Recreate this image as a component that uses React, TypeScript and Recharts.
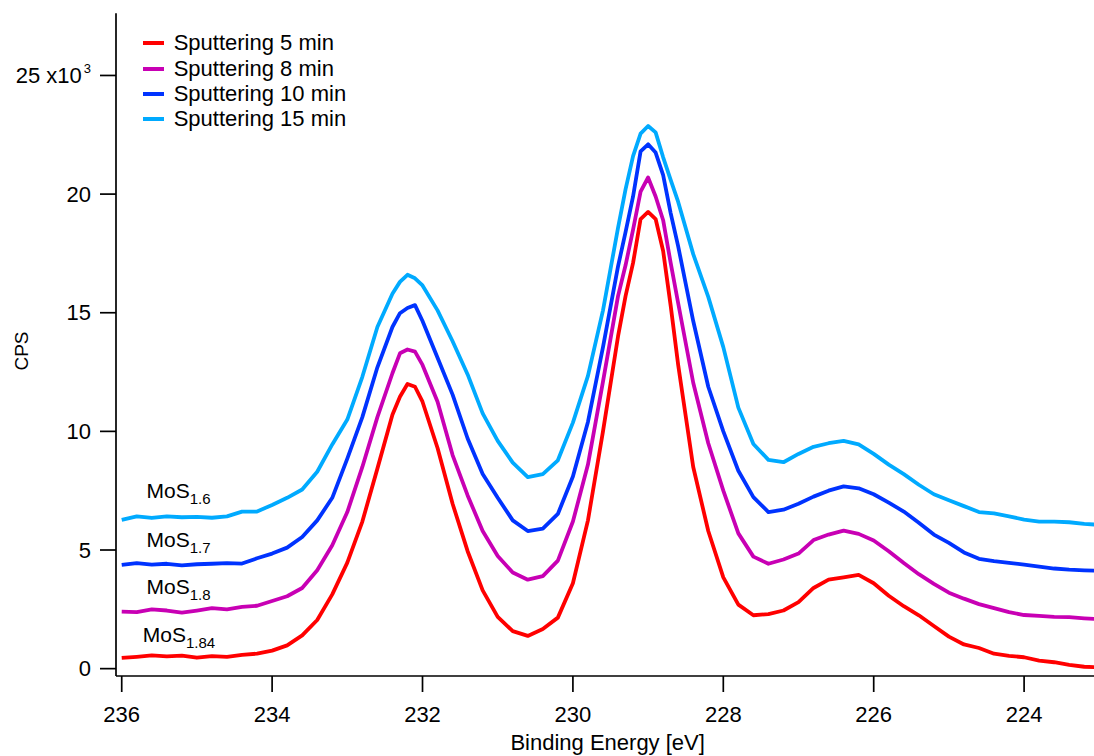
import { LineChart, Line, XAxis, YAxis, Legend, ReferenceDot } from 'recharts';

// Mo 3d / S 2s region, binding energy in eV (high to low), denser over the two peaks
const energy = [
  236.0, 235.8, 235.6, 235.4, 235.2, 235.0, 234.8, 234.6, 234.4, 234.2,
  234.0, 233.8, 233.6, 233.4, 233.2, 233.0, 232.8, 232.6, 232.4, 232.3,
  232.2, 232.1, 232.0, 231.8, 231.6, 231.4, 231.2, 231.0, 230.8, 230.6,
  230.4, 230.2, 230.0, 229.8, 229.6, 229.4, 229.3, 229.2, 229.1, 229.0,
  228.9, 228.8, 228.7, 228.6, 228.4, 228.2, 228.0, 227.8, 227.6, 227.4,
  227.2, 227.0, 226.8, 226.6, 226.4, 226.2, 226.0, 225.8, 225.6, 225.4,
  225.2, 225.0, 224.8, 224.6, 224.4, 224.2, 224.0, 223.8, 223.6, 223.4,
  223.2, 223.0,
];

// counts per second, x10^3
const sputter5 = [
  0.45, 0.5, 0.56, 0.52, 0.55, 0.46, 0.53, 0.5, 0.58, 0.63,
  0.76, 0.98, 1.4, 2.05, 3.13, 4.47, 6.2, 8.43, 10.7, 11.46,
  12.0, 11.88, 11.25, 9.3, 6.95, 4.95, 3.3, 2.18, 1.58, 1.38,
  1.67, 2.15, 3.6, 6.25, 10.0, 14.0, 15.7, 17.1, 18.95, 19.25,
  18.95, 17.6, 15.3, 12.8, 8.5, 5.8, 3.85, 2.7, 2.25, 2.3,
  2.45, 2.8, 3.4, 3.75, 3.85, 3.95, 3.6, 3.07, 2.63, 2.25,
  1.8, 1.35, 1.02, 0.87, 0.63, 0.54, 0.48, 0.34, 0.27, 0.16,
  0.08, 0.06,
];
const sputter8 = [
  2.4, 2.38, 2.5, 2.45, 2.36, 2.45, 2.55, 2.5, 2.6, 2.65,
  2.85, 3.05, 3.4, 4.15, 5.2, 6.6, 8.5, 10.6, 12.45, 13.29,
  13.45, 13.36, 12.8, 11.25, 9.0, 7.3, 5.8, 4.75, 4.05, 3.75,
  3.9, 4.55, 6.2, 8.6, 12.1, 15.7, 17.0, 18.5, 20.1, 20.7,
  19.9, 18.9, 17.1, 15.4, 12.05, 9.5, 7.5, 5.7, 4.72, 4.42,
  4.6, 4.85, 5.42, 5.65, 5.82, 5.68, 5.4, 4.95, 4.45, 3.98,
  3.57, 3.2, 2.95, 2.72, 2.55, 2.38, 2.26, 2.22, 2.18, 2.17,
  2.12, 2.08,
];
const sputter10 = [
  4.37, 4.45, 4.38, 4.42, 4.35, 4.4, 4.42, 4.45, 4.43, 4.65,
  4.85, 5.1, 5.55, 6.25, 7.2, 8.85, 10.6, 12.7, 14.4, 14.98,
  15.2, 15.32, 14.65, 13.1, 11.55, 9.7, 8.2, 7.2, 6.25, 5.8,
  5.9, 6.52, 8.1, 10.4, 13.55, 16.95, 18.4, 19.9, 21.8, 22.1,
  21.75, 20.8, 19.2, 17.8, 14.65, 11.88, 10.0, 8.34, 7.23, 6.6,
  6.7, 6.95, 7.25, 7.5, 7.68, 7.6, 7.35, 7.0, 6.62, 6.15,
  5.65, 5.3, 4.9, 4.63, 4.53, 4.46, 4.38, 4.3, 4.22, 4.17,
  4.14, 4.12,
];
const sputter15 = [
  6.27, 6.42, 6.35, 6.42, 6.38, 6.4, 6.36, 6.42, 6.62, 6.62,
  6.9, 7.2, 7.55, 8.3, 9.45, 10.5, 12.3, 14.4, 15.8, 16.3,
  16.6, 16.45, 16.15, 15.1, 13.8, 12.4, 10.76, 9.6, 8.68, 8.07,
  8.2, 8.78, 10.37, 12.34, 15.1, 18.58, 20.2, 21.6, 22.55, 22.87,
  22.6, 21.55, 20.6, 19.67, 17.47, 15.67, 13.55, 11.0, 9.47, 8.8,
  8.7, 9.05, 9.35, 9.5, 9.6, 9.45, 9.05, 8.6, 8.2, 7.75,
  7.35, 7.1, 6.85, 6.6, 6.54, 6.42, 6.28, 6.2, 6.2, 6.17,
  6.1, 6.06,
];

const seriesKeys = ['s5', 's8', 's10', 's15'];
const seriesNames = ['Sputtering 5 min', 'Sputtering 8 min', 'Sputtering 10 min', 'Sputtering 15 min'];
const seriesColors = ['#ff0000', '#c800b4', '#0033ff', '#00aaff'];

const energyTicks = [236, 234, 232, 230, 228, 226, 224];
const cpsTicks = [0, 5, 10, 15, 20, 25];

// MoS_x tags next to each trace's flat left end
const phaseTags = [
  { x: 235.67, y: 7.21, sub: '1.6' },
  { x: 235.67, y: 5.13, sub: '1.7' },
  { x: 235.67, y: 3.13, sub: '1.8' },
  { x: 235.72, y: 1.13, sub: '1.84' },
];

const rows = energy.map((e, i) => ({
  energy: e,
  s5: sputter5[i],
  s8: sputter8[i],
  s10: sputter10[i],
  s15: sputter15[i],
}));

const FONT = '"Liberation Sans", Arial, Helvetica, sans-serif';

function CpsTick(props: any) {
  const { x, y, payload } = props;
  const v = payload.value;
  return (
    <text x={x} y={y} dy={7.5} textAnchor="end" fontSize={22} fill="#000">
      {v === 25 ? (
        <>
          25 x10
          <tspan dx={2} dy={-10} fontSize={13}>3</tspan>
        </>
      ) : (
        v
      )}
    </text>
  );
}

function LegendBox() {
  return (
    <div style={{ fontFamily: FONT, fontSize: 22, color: '#000' }}>
      {seriesNames.map((name, i) => (
        <div key={name} style={{ display: 'flex', alignItems: 'center', height: 25.4, whiteSpace: 'nowrap' }}>
          <span style={{ display: 'inline-block', width: 21, height: 4, background: seriesColors[i], marginRight: 10 }} />
          {name}
        </div>
      ))}
    </div>
  );
}

export default function App() {
  return (
    <div
      style={{
        position: 'absolute',
        left: 0,
        top: 0,
        width: 1094,
        height: 756,
        overflow: 'hidden',
        background: '#fff',
        fontFamily: FONT,
      }}
    >
      <LineChart width={1110} height={756} data={rows} margin={{ top: 13.3, right: 10.7, bottom: 0, left: 0 }}>
        <XAxis
          xAxisId="e"
          dataKey="energy"
          type="number"
          domain={[223, 236.076]}
          reversed
          allowDataOverflow
          ticks={energyTicks}
          height={80}
          tickSize={16}
          tickMargin={14}
          axisLine={{ stroke: '#000', strokeWidth: 1.7 }}
          tickLine={{ stroke: '#000', strokeWidth: 1.7 }}
          tick={{ fill: '#000', fontSize: 22 }}
          label={{ value: 'Binding Energy [eV]', position: 'insideBottom', offset: 6, fill: '#000', fontSize: 22 }}
        />
        <XAxis
          xAxisId="top"
          orientation="top"
          type="number"
          domain={[223, 236.076]}
          reversed
          allowDataOverflow
          height={0}
          tick={false}
          tickLine={false}
          axisLine={{ stroke: '#000', strokeWidth: 1.7 }}
        />
        <YAxis
          yAxisId="c"
          type="number"
          domain={[-0.31, 27.62]}
          allowDataOverflow
          ticks={cpsTicks}
          width={116}
          tickSize={16}
          tickMargin={9}
          axisLine={{ stroke: '#000', strokeWidth: 1.7 }}
          tickLine={{ stroke: '#000', strokeWidth: 1.7 }}
          tick={<CpsTick />}
          label={{
            content: () => (
              <text transform="translate(21 351) rotate(-90)" textAnchor="middle" dominantBaseline="central" fontSize={19} fill="#000">
                CPS
              </text>
            ),
          }}
        />
        <Legend
          layout="vertical"
          align="center"
          verticalAlign="middle"
          wrapperStyle={{ left: 142.7, top: 30.6, width: 'auto' }}
          content={() => <LegendBox />}
        />
        {seriesKeys.map((key, i) => (
          <Line
            key={key}
            xAxisId="e"
            yAxisId="c"
            type="linear"
            dataKey={key}
            name={seriesNames[i]}
            stroke={seriesColors[i]}
            strokeWidth={3.8}
            strokeLinejoin="round"
            dot={false}
            activeDot={false}
            isAnimationActive={false}
          />
        ))}
        {phaseTags.map((t) => (
          <ReferenceDot
            key={t.sub}
            xAxisId="e"
            yAxisId="c"
            x={t.x}
            y={t.y}
            r={0}
            shape={(p: any) => (
              <text x={p.cx} y={p.cy} fontSize={21} fill="#000">
                MoS
                <tspan dy={6} fontSize={15}>{t.sub}</tspan>
              </text>
            )}
          />
        ))}
      </LineChart>
    </div>
  );
}
